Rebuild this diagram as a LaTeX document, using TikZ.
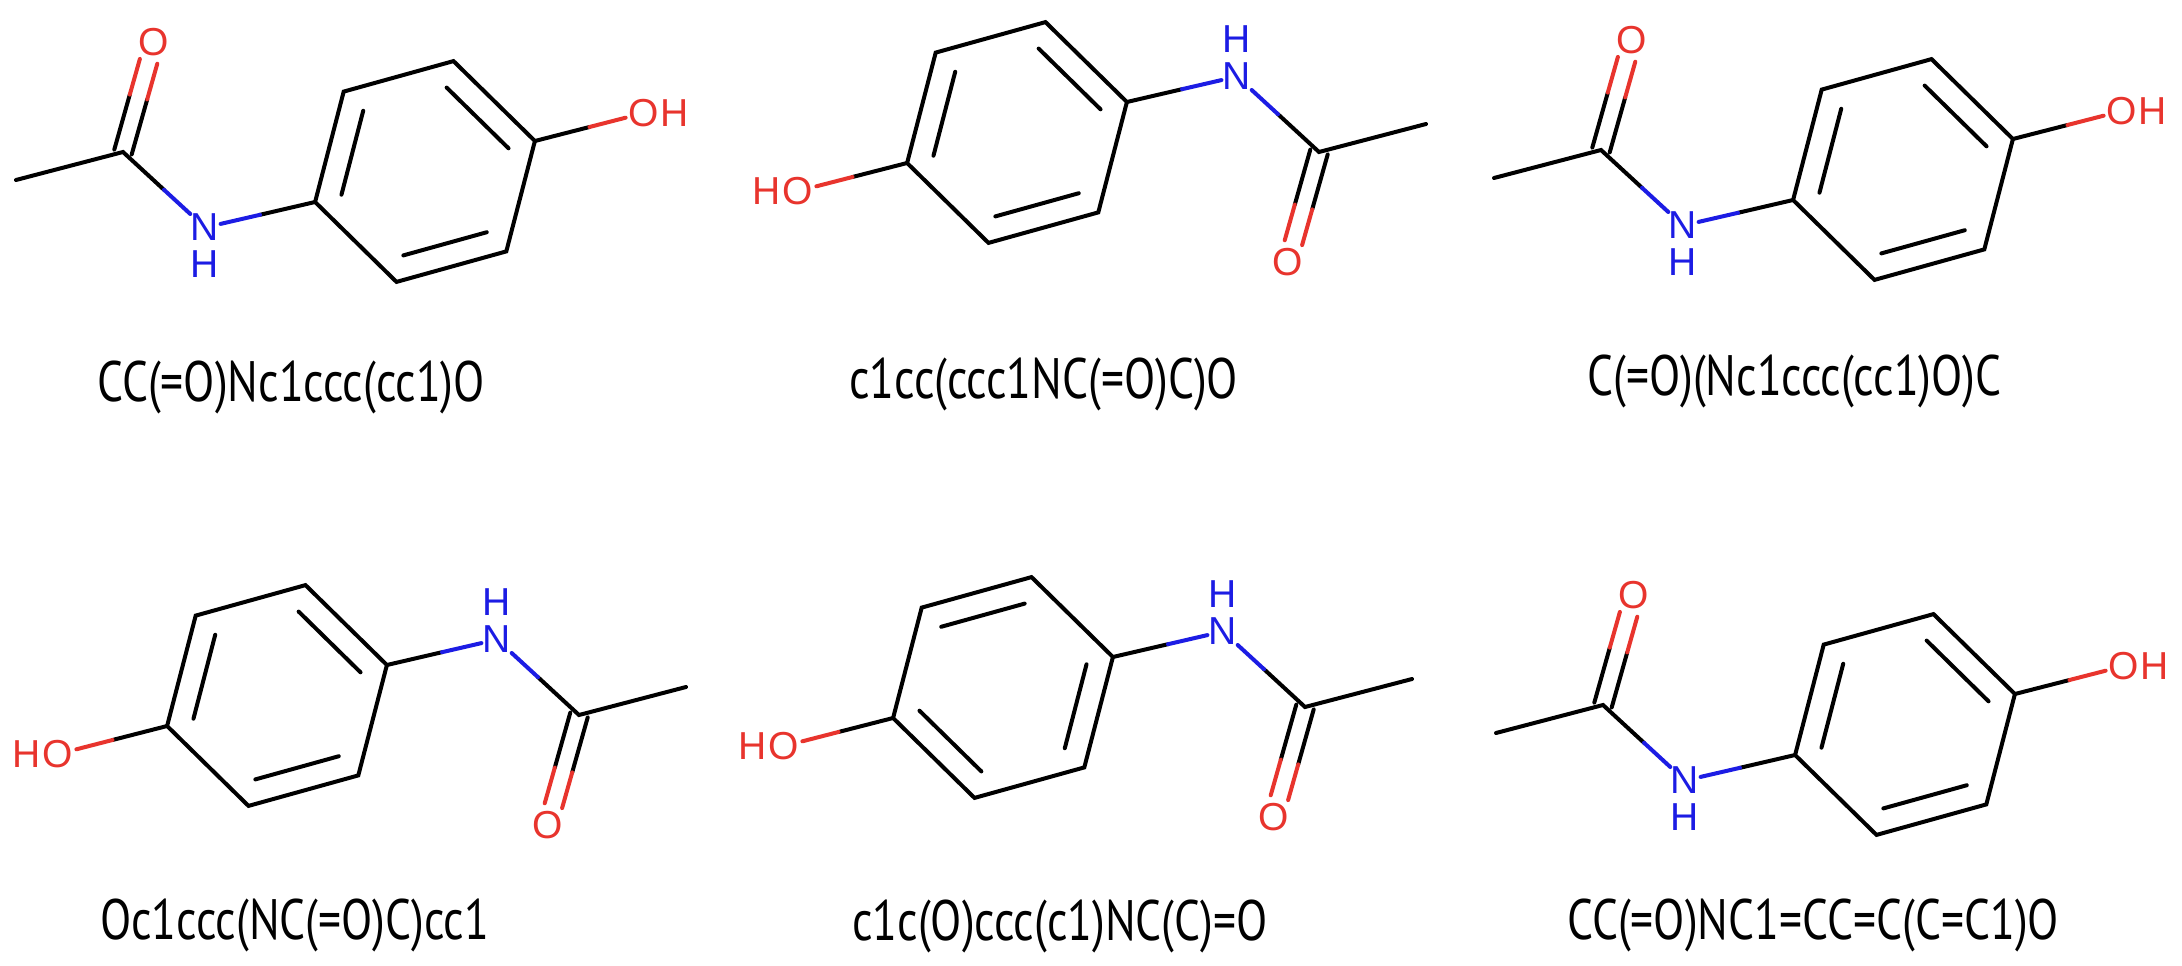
\documentclass[tikz,border=0pt]{standalone}
\usepackage{fontspec}
\usetikzlibrary{calc}
\newfontfamily\atomfont{Liberation Sans}
\newfontfamily\capfont[FakeStretch=0.8]{PT Sans}
\definecolor{ored}{RGB}{232,52,45}
\definecolor{nblue}{RGB}{28,28,228}
\tikzset{
  bond/.style={line width=4pt,line cap=round,black},
  obond/.style={line width=4pt,line cap=round,ored},
  nbond/.style={line width=4pt,line cap=round,nblue},
  olab/.style={inner sep=0pt,text=ored,font=\atomfont\fontsize{39}{39}\selectfont},
  nlab/.style={inner sep=0pt,text=nblue,font=\atomfont\fontsize{39}{39}\selectfont},
  caption/.style={inner sep=0pt,anchor=base west,font=\capfont\fontsize{57}{57}\selectfont}
}
\newcommand\paramol[5]{%
\begin{scope}[shift={(#2,#3)},rotate=#4]
 \coordinate (#1ct) at (0,0);
 \coordinate (#1c1) at (-109.9,30.5);
 \coordinate (#1c2) at (-81.3,-79.9);
 \coordinate (#1c3) at (28.5,-110.4);
 \coordinate (#1c4) at (109.9,-30.5);
 \coordinate (#1c5) at (81.3,79.9);
 \coordinate (#1c6) at (-28.5,110.4);
 \coordinate (#1cc) at (-302,-19.5);
 \coordinate (#1me) at (-409,8.5);
 \coordinate (#1nend) at (-204.4,52.4);
 \coordinate (#1nmid) at (-165,43.3);
 \coordinate (#1cnend) at (-234.7,42.5);
 \coordinate (#1cnmid) at (-261,18.3);
 \coordinate (#1ohend) at (200.6,-53.8);
 \coordinate (#1ohmid) at (164.5,-44.5);
 \coordinate (#1dla) at (-310.7,-21.9);
 \coordinate (#1dlb) at (-295.2,-76.9);
 \coordinate (#1dlc) at (-285.1,-112.6);
 \coordinate (#1dra) at (-293.3,-17.1);
 \coordinate (#1drb) at (-277.8,-72.1);
 \coordinate (#1drc) at (-267.7,-107.8);
 \node[nlab] (#1N) at (-220,56) {N};
 \node[nlab] (#1NH) at (-220,93) {H};
 \node[olab] (#1O) at (-271,-129.5) {O};
 \node[olab] (#1OH) at (219,-58.5) {O};
 \node[olab] (#1OHH) at (250,-58.5) {H};
 \draw[bond] (#1c1) -- (#1c2) -- (#1c3) -- (#1c4) -- (#1c5) -- (#1c6) -- cycle;
 \ifnum#5=0
  \draw[bond] ($(#1c1)!0.24!(#1ct)$) -- ($(#1c2)!0.24!(#1ct)$);
  \draw[bond] ($(#1c3)!0.24!(#1ct)$) -- ($(#1c4)!0.24!(#1ct)$);
  \draw[bond] ($(#1c5)!0.24!(#1ct)$) -- ($(#1c6)!0.24!(#1ct)$);
 \else
  \draw[bond] ($(#1c2)!0.24!(#1ct)$) -- ($(#1c3)!0.24!(#1ct)$);
  \draw[bond] ($(#1c4)!0.24!(#1ct)$) -- ($(#1c5)!0.24!(#1ct)$);
  \draw[bond] ($(#1c6)!0.24!(#1ct)$) -- ($(#1c1)!0.24!(#1ct)$);
 \fi
 \draw[bond] (#1me) -- (#1cc) -- (#1cnmid);
 \draw[nbond] (#1cnmid) -- (#1cnend);
 \draw[bond] (#1c1) -- (#1nmid);
 \draw[nbond] (#1nmid) -- (#1nend);
 \draw[bond] (#1c4) -- (#1ohmid);
 \draw[obond] (#1ohmid) -- (#1ohend);
 \draw[bond] (#1dla) -- (#1dlb);
 \draw[obond] (#1dlb) -- (#1dlc);
 \draw[bond] (#1dra) -- (#1drb);
 \draw[obond] (#1drb) -- (#1drc);
\end{scope}}
\begin{document}
\begin{tikzpicture}[x=1pt,y=-1pt]
\useasboundingbox[fill=white] (0,0) rectangle (2182,966);
\paramol{a}{425}{171.5}{0}{0}
\paramol{b}{1017}{132.5}{180}{1}
\paramol{c}{1903}{169.5}{0}{0}
\paramol{d}{277}{695.5}{180}{1}
\paramol{e}{1003}{687.5}{180}{0}
\paramol{f}{1905}{724.5}{0}{0}
\node[caption] (ta) at (97,401) {CC(=O)Nc1ccc(cc1)O};
\node[caption] (tb) at (849,398) {c1cc(ccc1NC(=O)C)O};
\node[caption] (tc) at (1587,395) {C(=O)(Nc1ccc(cc1)O)C};
\node[caption] (td) at (100,939) {Oc1ccc(NC(=O)C)cc1};
\node[caption] (te) at (852,940) {c1c(O)ccc(c1)NC(C)=O};
\node[caption] (tf) at (1567,939) {CC(=O)NC1=CC=C(C=C1)O};
\end{tikzpicture}
\end{document}
